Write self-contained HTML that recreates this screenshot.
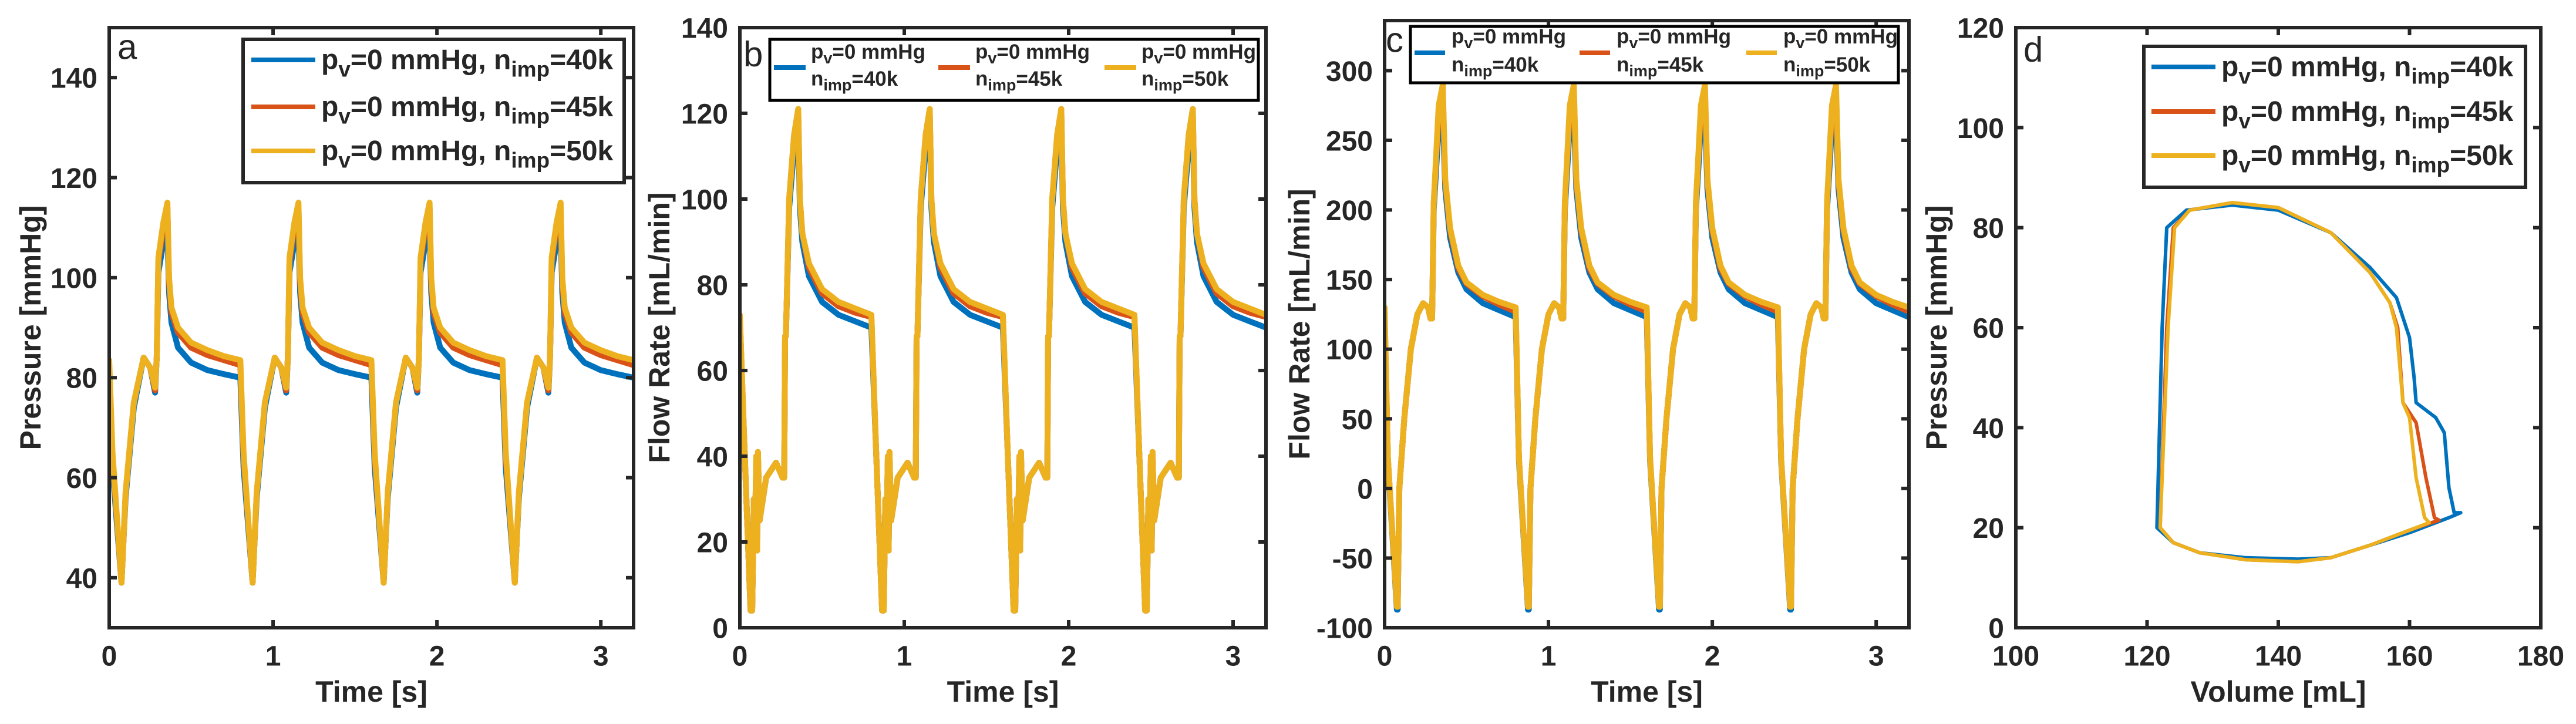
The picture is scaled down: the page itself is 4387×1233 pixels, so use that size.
<!DOCTYPE html>
<html><head><meta charset="utf-8">
<style>
html,body{margin:0;padding:0;background:#fff;}
svg{display:block;}
text{font-family:"Liberation Sans",Arial,sans-serif;fill:#262626;}
</style></head>
<body>
<svg id="fig" xmlns="http://www.w3.org/2000/svg" width="4387" height="1233" viewBox="0 0 4387 1233"></svg>
<script>
// ---- data ----
const seriesNames = ["p_v=0 mmHg, n_imp=40k","p_v=0 mmHg, n_imp=45k","p_v=0 mmHg, n_imp=50k"];
const seriesColors = ["#0072BD","#D95319","#EDB120"];
const nCycles = 4;
const period = 0.8;
// Panel a: pressure over one cycle
const aTime = [0,0.02,0.075,0.085,0.1,0.15,0.21,0.25,0.28,0.29,0.3,0.33,0.355,0.365,0.38,0.42,0.5,0.6,0.7,0.8];
const aBlue = [80,62,39,46,56,74,84,82,77,84,101,107,110,97,91,86,83,81.5,80.7,80];
const aRed  = [82.5,64,39,46,57,75,84,82,77.5,84,103,110,114,99,93,89,86,84.5,83.5,82.5];
const aYel  = [83.5,65,39,46,57,75,84,82,78,84,104,111,115,100,94,90,87,85.5,84.3,83.5];
// Panel b: flow rate (rows)
const bTime = [0,0.03,0.065,0.075,0.085,0.09,0.1,0.105,0.11,0.12,0.16,0.22,0.26,0.27,0.275,0.28,0.3,0.33,0.355,0.365,0.38,0.42,0.5,0.6,0.7,0.8];
const bBlue = [70,40,4,4,30,18,39,18,40,25,35,38.5,35,35,68,68,98,112,117,98,90,82,76,73,71.5,70];
const bRed  = [72.5,40,4,4,30,18,40,18,41,25,35,38.5,35,35,68,68,100,115,121,100,92,84,78,75,73.5,72.5];
const bYel  = [73,40,4,4,30,18,40,18,41,25,35,38.5,35,35,68,68,100,115,121,100,92,85,79,76,74.5,73];
// Panel c: flow rate (col)
const cTime = [0,0.02,0.075,0.08,0.09,0.12,0.16,0.2,0.235,0.265,0.28,0.29,0.3,0.33,0.355,0.37,0.4,0.45,0.5,0.6,0.7,0.8];
const cBlue = [123,20,-87,-87,0,50,100,125,133,130,122,122,200,260,270,215,180,155,143,133,128,123];
const cRed  = [127,22,-85,-85,0,50,100,125,133,130,122,122,205,270,285,220,185,158,147,138,132,127];
const cYel  = [130,22,-85,-85,0,50,100,125,133,130,122,122,205,275,290,222,187,160,148,139,134,130];
// Panel d: PV loop
const dVolBlue = [121.5,122.3,123,126,133,140,148,154,158,160,160.7,161,164,165.3,166,166.8,167.8,166,160,154,148,143,135,128,124,121.5];
const dPresBlue= [20,60,80,83.5,84.5,83.5,79,72,66,58,50,45,42,39,28,23,23,22,19,16.5,14,13.7,14,15,17,20];
const dVolRed  = [122,123,124,126.5,133,140,148,154,157,158.2,159,160,161,162.5,163.8,164.5,160,154,148,143,135,128,124,122];
const dPresRed = [20,60,80,83.5,85,84,79,71,65,60,45,43,41,30,22,21.5,19.5,16.5,14,13.2,13.6,15,17,20];
const dVolYel  = [122,123.2,124.2,126.5,133,140,148,154,157,158,159,160,161,162.3,163,160,154,148,143,135,128,124,122];
const dPresYel = [20,60,80,83.5,85,84,79,71,65,60,45,42,30,22,21,19.5,16.5,14,13.2,13.6,15,17,20];

const xTicksTime = [0,1,2,3];
const yTicksA = [40,60,80,100,120,140];
const yTicksB = [0,20,40,60,80,100,120,140];
const yTicksC = [-100,-50,0,50,100,150,200,250,300];
const xTicksD = [100,120,140,160,180];
const yTicksD = [0,20,40,60,80,100,120];

// ---- drawing ----
const NS="http://www.w3.org/2000/svg";
const svg=document.getElementById('fig');
function el(tag,attrs,parent){const e=document.createElementNS(NS,tag);for(const k in attrs)e.setAttribute(k,attrs[k]);(parent||svg).appendChild(e);return e;}

function repeatCycle(tc,vals){const xs=[],ys=[];for(let c=0;c<nCycles;c++){for(let i=0;i<tc.length;i++){xs.push(tc[i]+c*period);ys.push(vals[i]);}}return [xs,ys];}

function makeAxes(cfg){
  const g=el('g',{});
  
  
  const sx=v=>cfg.L+(v-cfg.x0)/(cfg.x1-cfg.x0)*(cfg.R-cfg.L);
  const sy=v=>cfg.B-(v-cfg.y0)/(cfg.y1-cfg.y0)*(cfg.B-cfg.T);
  const clipId='clip-'+cfg.name;
  const cp=el('clipPath',{id:clipId},g);
  el('rect',{x:cfg.L,y:cfg.T,width:cfg.R-cfg.L,height:cfg.B-cfg.T},cp);
  const lines=el('g',{'clip-path':'url(#'+clipId+')'},g);
  cfg.series.forEach((s,i)=>{
    let d='';
    for(let k=0;k<s.x.length;k++){d+=(k?'L':'M')+sx(s.x[k]).toFixed(1)+','+sy(s.y[k]).toFixed(1);}
    const p=el('path',{d:d,fill:'none',stroke:seriesColors[i],'stroke-width':cfg.lw,'stroke-linejoin':'round','stroke-linecap':'round'},lines);
    
    
  });
  const box=el('rect',{x:cfg.L,y:cfg.T,width:cfg.R-cfg.L,height:cfg.B-cfg.T,fill:'none',stroke:'#262626','stroke-width':6},g);
  
  
  cfg.xt.forEach(v=>{
    const x=sx(v);
    el('line',{x1:x,y1:cfg.B,x2:x,y2:cfg.B-13,stroke:'#262626','stroke-width':6},g);
    el('line',{x1:x,y1:cfg.T,x2:x,y2:cfg.T+13,stroke:'#262626','stroke-width':6},g);
    const t=el('text',{x:x,y:1118,'font-size':48,'font-weight':'bold','text-anchor':'middle','dominant-baseline':'central'},g);
    t.textContent=v;
    
    
  });
  cfg.yt.forEach(v=>{
    const y=sy(v);
    el('line',{x1:cfg.L,y1:y,x2:cfg.L+13,y2:y,stroke:'#262626','stroke-width':6},g);
    el('line',{x1:cfg.R,y1:y,x2:cfg.R-13,y2:y,stroke:'#262626','stroke-width':6},g);
    const t=el('text',{x:cfg.L-20,y:y+2,'font-size':48,'font-weight':'bold','text-anchor':'end','dominant-baseline':'central'},g);
    t.textContent=v;
    
    
  });
  const xl=el('text',{x:(cfg.L+cfg.R)/2,y:1178,'font-size':50,'font-weight':'bold','text-anchor':'middle','dominant-baseline':'central'},g);
  xl.textContent=cfg.xlabel;
  
  
  const yc=(cfg.T+cfg.B)/2;
  const yl=el('text',{x:cfg.ylx,y:yc,'font-size':50,'font-weight':'bold','text-anchor':'middle','dominant-baseline':'central',transform:'rotate(-90 '+cfg.ylx+' '+yc+')'},g);
  yl.textContent=cfg.ylabel;
  
  
  const pl=el('text',{x:cfg.plx,y:cfg.ply,'font-size':60,'dominant-baseline':'central'},g);
  pl.textContent=cfg.panel;
  
  
  return g;
}

function legendRowText(g,x,y,fs,label,twoLine,dy2){
  const n=label.match(/=(\d+k)$/)[1];
  const sub=Math.round(fs*0.78);
  const dd=fs*0.32;
  if(!twoLine){
    const t=el('text',{x:x,y:y,'font-size':fs,'font-weight':'bold','dominant-baseline':'central'},g);
    t.innerHTML='p<tspan dy="'+dd+'" font-size="'+sub+'">v</tspan><tspan dy="'+(-dd)+'">=0 mmHg, n</tspan><tspan dy="'+dd+'" font-size="'+sub+'">imp</tspan><tspan dy="'+(-dd)+'">='+n+'</tspan>';
    return t;
  } else {
    const t=el('text',{x:x,y:y,'font-size':fs,'font-weight':'bold','dominant-baseline':'central'},g);
    t.innerHTML='p<tspan dy="'+dd+'" font-size="'+sub+'">v</tspan><tspan dy="'+(-dd)+'">=0 mmHg</tspan>';
    const t2=el('text',{x:x,y:y+dy2,'font-size':fs,'font-weight':'bold','dominant-baseline':'central'},g);
    t2.innerHTML='n<tspan dy="'+dd+'" font-size="'+sub+'">imp</tspan><tspan dy="'+(-dd)+'">='+n+'</tspan>';
    return t;
  }
}

function vertLegend(box,lineX0,lineX1,textX,rowsY,fs){
  const g=el('g',{});
  
  
  el('rect',{x:box[0],y:box[1],width:box[2]-box[0],height:box[3]-box[1],fill:'#fff',stroke:'#262626','stroke-width':6},g);
  seriesNames.forEach((nm,i)=>{
    const ln=el('line',{x1:lineX0,y1:rowsY[i],x2:lineX1,y2:rowsY[i],stroke:seriesColors[i],'stroke-width':8},g);
    
    
    legendRowText(g,textX,rowsY[i],fs,nm,false);
  });
}
function horzLegend(box,cols,lineW,textOff,y1,y2,fs){
  const g=el('g',{});
  
  
  el('rect',{x:box[0],y:box[1],width:box[2]-box[0],height:box[3]-box[1],fill:'#fff',stroke:'#000','stroke-width':5},g);
  seriesNames.forEach((nm,i)=>{
    const ly=(y1+y2)/2+4;
    const ln=el('line',{x1:cols[i],y1:ly,x2:cols[i]+lineW,y2:ly,stroke:seriesColors[i],'stroke-width':8},g);
    
    
    legendRowText(g,cols[i]+textOff,y1,fs,nm,true,y2-y1);
  });
}

// Panel a
let A=[[aTime,aBlue],[aTime,aRed],[aTime,aYel]].map(p=>{const r=repeatCycle(p[0],p[1]);return {x:r[0],y:r[1]};});
makeAxes({name:'panel-a-pressure',L:186,R:1079,T:47,B:1069,x0:0,x1:3.2,y0:30,y1:150,xt:xTicksTime,yt:yTicksA,series:A,lw:10,
  xlabel:'Time [s]',ylabel:'Pressure [mmHg]',ylx:52,panel:'a',plx:200,ply:80});
vertLegend([414,67,1063,311],428,537,547,[102,182,257],48);

// Panel b
let Bs=[[bTime,bBlue],[bTime,bRed],[bTime,bYel]].map(p=>{const r=repeatCycle(p[0],p[1]);return {x:r[0],y:r[1]};});
makeAxes({name:'panel-b-flow-rate',L:1260,R:2156,T:47,B:1069,x0:0,x1:3.2,y0:0,y1:140,xt:xTicksTime,yt:yTicksB,series:Bs,lw:10,
  xlabel:'Time [s]',ylabel:'Flow Rate [mL/min]',ylx:1123,panel:'b',plx:1266,ply:92});
horzLegend([1311,67,2143,171],[1318,1598,1881],54,63,88,134,35);

// Panel c
let Cs=[[cTime,cBlue],[cTime,cRed],[cTime,cYel]].map(p=>{const r=repeatCycle(p[0],p[1]);return {x:r[0],y:r[1]};});
makeAxes({name:'panel-c-flow-rate',L:2358,R:3251,T:35,B:1069,x0:0,x1:3.2,y0:-100,y1:336,xt:xTicksTime,yt:yTicksC,series:Cs,lw:10,
  xlabel:'Time [s]',ylabel:'Flow Rate [mL/min]',ylx:2213,panel:'c',plx:2360,ply:68});
horzLegend([2402,45,3233,141],[2409,2690,2974],52,63,62,110,35);

// Panel d
const D=[{x:dVolBlue,y:dPresBlue},{x:dVolRed,y:dPresRed},{x:dVolYel,y:dPresYel}];
makeAxes({name:'panel-d-pv-loop',L:3433,R:4327,T:47,B:1069,x0:100,x1:180,y0:0,y1:120,xt:xTicksD,yt:yTicksD,series:D,lw:6,
  xlabel:'Volume [mL]',ylabel:'Pressure [mmHg]',ylx:3298,panel:'d',plx:3446,ply:84});
vertLegend([3651,79,4301,319],3664,3773,3783,[114,190,265],48);
</script>
</body></html>
